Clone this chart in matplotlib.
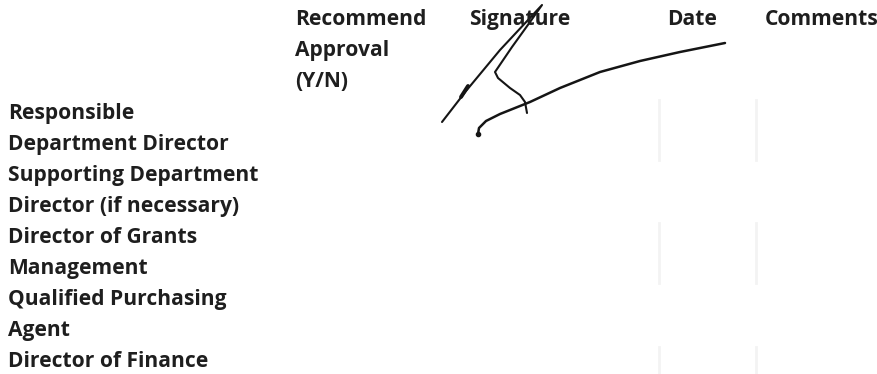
import matplotlib
matplotlib.use('Agg')
import matplotlib.pyplot as plt

# form text
header_lines = ['Recommend', 'Approval', '(Y/N)']
column_titles = ['Signature', 'Date', 'Comments']
row_labels = ['Responsible', 'Department Director', 'Supporting Department',
              'Director (if necessary)', 'Director of Grants', 'Management',
              'Qualified Purchasing', 'Agent', 'Director of Finance']

# signature strokes (pixel coordinates)
stroke1_x = [442, 466, 500, 542, 530, 512, 495, 498, 510, 520, 525, 527]
stroke1_y = [122, 91, 50, 5, 22, 47, 72, 78, 88, 95, 102, 113]
blot_x = [461, 468]
blot_y = [97, 86]
stroke2_x = [478, 479, 486, 500, 530, 560, 600, 640, 680, 725]
stroke2_y = [134, 128, 121, 114, 102, 88, 72, 61, 52, 43]

# faint column rules left in the scan
rule_x = [659, 756]
rule_spans = [(100, 160), (223, 283), (347, 374)]

W, H = 878, 374
fig = plt.figure(figsize=(W / 100, H / 100), dpi=100)
ax = fig.add_axes([0, 0, 1, 1])
ax.set_xlim(0, W)
ax.set_ylim(H, 0)
ax.axis('off')

# size the font so "Department Director" spans ~222 px like the scan
font = dict(family='Open Sans', fontweight='bold', color='#1e1e1e', va='center', ha='left')
probe = ax.text(0, 0, row_labels[1], fontsize=14, **font)
fig.canvas.draw()
w = probe.get_window_extent().width
probe.remove()
font['fontsize'] = 14 * 222 / w

step = 31.1
for i, t in enumerate(header_lines):
    ax.text(295, 19 + i * step, t, **font)
for x, t in zip([469, 667, 765], column_titles):
    ax.text(x, 19, t, **font)
for i, t in enumerate(row_labels):
    ax.text(8, 113 + i * step, t, **font)

for x in rule_x:
    for y0, y1 in rule_spans:
        ax.plot([x, x], [y0, y1], color='#f3f3f3', lw=2)

ax.plot(stroke1_x, stroke1_y, color='#151515', lw=1.5, solid_capstyle='round')
ax.plot(blot_x, blot_y, color='#151515', lw=2.8, solid_capstyle='round')
ax.plot(stroke2_x, stroke2_y, color='#151515', lw=1.8, solid_capstyle='round')
ax.plot(stroke2_x[0], stroke2_y[0], 'o', color='#151515', ms=3)

fig.savefig('out.png', dpi=100)
